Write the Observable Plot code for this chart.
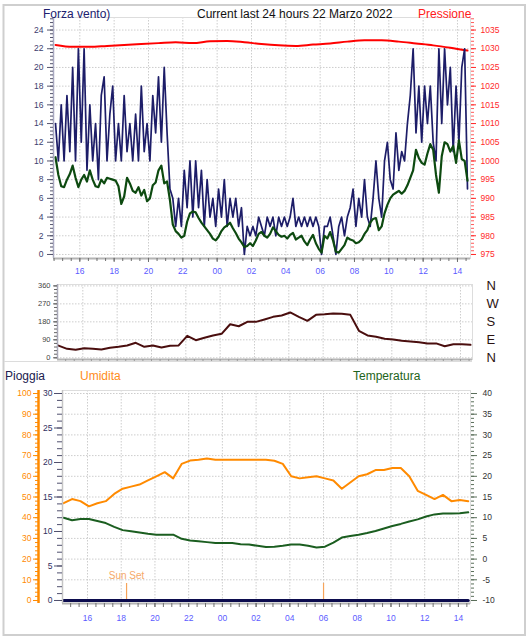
<!DOCTYPE html>
<html>
<head>
<meta charset="utf-8">
<script src="https://cdn.jsdelivr.net/npm/d3@7"></script>
<script src="https://cdn.jsdelivr.net/npm/@observablehq/plot@0.6"></script>
<style>
  html, body { margin: 0; padding: 0; background: #ffffff; }
  #chart { position: relative; width: 532px; height: 640px; overflow: hidden; background: #fff; font-family: "Liberation Sans", Arial, sans-serif; }
  #chart > div.panel { position: absolute; left: 0; }
  #chart svg { display: block; }
  #overlay { position: absolute; left: 0; top: 0; pointer-events: none; }
</style>
</head>
<body>
<div id="chart">
  <div class="panel" id="p1" style="top:0px"></div>
  <div class="panel" id="p2" style="top:275px"></div>
  <div class="panel" id="p3" style="top:380px"></div>
  <svg id="overlay" width="532" height="640" font-family="Liberation Sans, Arial, sans-serif">
    <rect x="3.5" y="5" width="521.5" height="630" fill="none" stroke="#cfcfcf" stroke-width="2"/>
    <line x1="4" x2="472" y1="361.5" y2="361.5" stroke="#dcdcdc" stroke-width="1"/>
    <text x="43" y="17.5" fill="#20206e" font-size="12">Forza vento)</text>
    <text x="197" y="17.5" fill="#111111" font-size="12">Current last 24 hours 22 Marzo 2022</text>
    <text x="418" y="17.5" fill="#ff2020" font-size="12">Pressione</text>
    <text x="5" y="380" fill="#20204e" font-size="12">Pioggia</text>
    <text x="80" y="380" fill="#ff8c1a" font-size="12">Umidita</text>
    <text x="353" y="380" fill="#1e6420" font-size="12">Temperatura</text>
  </svg>
</div>
<script>
// ---------------- DATA ----------------
const start = new Date(2022, 2, 21, 14, 35);   // first sample (21 Mar 2022 14:35)
const windStepMin = 10;
// Wind gust (navy), one value every 10 minutes
const windGust = [
  14,10,16,10,17,11,20,10,22,12,
  22,9,16,10,14,8,17,19,10,15,
  18,10,14,10,17,11,14,10,15,10,
  18,11,14,10,17,13,19,12,20,13,
  7,6,3,6,3,9,5,10,4,10,
  5,9,3,8,4,6,3,7,4,8,
  3,6,4,6,3,5,0,3,2,3,
  2,4,3,2,4,3,4,2,4,3,
  4,3,4,6,3,4,3,4,3,4,
  3,4,3,0,3,3,4,2,0,3,
  4,2,4,5,7,3,6,4,8,4,
  3,6,10,6,4,10,12,8,7,13,
  9,11,10,14,17,22,13,18,12,18,
  14,18,12,10,22,14,22,16,20,11,
  18,12,20,22,7
];
// Wind average (dark green), one value every 10 minutes
const windAvg = [
  10.4,8.5,7.3,7.2,8.0,8.6,9.5,8.2,7.2,8.0,
  8.5,7.8,9.0,8.0,7.3,7.2,8.0,7.6,8.2,8.1,
  8.0,7.9,7.3,5.4,6.2,8.2,7.6,6.8,6.6,7.2,
  6.3,6.9,5.7,6.0,7.4,7.7,9.0,9.5,7.6,7.8,
  5.8,3.2,2.5,2.2,1.8,2.0,3.5,4.4,4.6,4.5,
  3.9,3.4,3.0,2.6,2.2,1.7,1.5,1.9,2.5,2.9,
  3.1,3.4,2.8,2.3,1.7,1.3,0.8,0.9,1.2,0.9,
  1.5,2.2,2.4,2.0,1.8,2.2,2.9,2.5,2.1,1.9,
  2.0,1.7,2.1,2.3,1.6,1.8,2.0,1.4,1.0,1.6,
  2.1,1.2,0.6,0.2,2.0,1.7,2.4,1.5,0.3,0.2,
  0.6,1.0,1.8,1.6,1.5,1.2,1.3,1.6,2.2,2.6,
  3.4,3.8,3.9,2.6,3.0,4.4,5.3,6.0,6.4,6.6,
  6.8,6.5,6.8,7.4,8.2,9.0,11.2,10.3,9.8,9.6,
  10.8,11.8,11.2,8.5,6.6,10.5,12.0,11.8,11.0,11.6,
  9.8,12.2,10.2,10.0,7.9
];
// Pressure (hPa), hourly
const pressureStepMin = 60;
const pressure = [
  1031.0,1030.5,1030.5,1030.75,1031.0,1031.25,1031.5,1031.75,1031.5,1032.0,
  1032.1,1031.75,1031.25,1030.9,1030.75,1031.1,1031.4,1031.9,1032.25,1032.25,
  1031.9,1031.4,1030.9,1030.25,1029.5
];
// Wind direction (degrees), every 30 minutes
const dirStepMin = 30;
const windDir = [
  61,45,40,48,45,42,50,55,62,75,
  55,62,52,60,62,110,88,100,112,120,
  168,158,180,180,192,205,212,227,205,185,
  215,218,222,220,215,135,112,105,95,92,
  85,82,78,72,72,58,68,68,65
];
// Humidity (%) and temperature (°C), every 30 minutes
const thStepMin = 30;
const humidity = [
  47,49,48,45.5,47,48,51.5,54,55,56,
  58,60,62,59,66,67.6,68,68.6,68,68,
  68,68,68,68,68,67.5,66,60,59,59.5,
  60,59,58,54,57,60,61,63,63,64,
  64,60,53,51,49,51,48,48.5,48
];
const temperature = [
  10.0,9.4,9.7,9.7,9.2,8.7,7.8,7.0,6.7,6.4,
  6.1,5.9,5.9,5.9,4.9,4.5,4.3,4.1,3.9,3.9,
  3.9,3.6,3.5,3.2,2.9,3.0,3.2,3.5,3.5,3.2,
  2.8,3.0,4.0,5.2,5.6,5.9,6.3,6.8,7.4,8.0,
  8.5,9.1,9.6,10.3,10.8,11.0,11.0,11.1,11.3
];
// Rain (mm), hourly
const rainStepMin = 60;
const rain = [0,0,0,0,0,0,0,0,0,0,0,0,0,0,0,0,0,0,0,0,0,0,0,0,0];
// Sunset / sunrise markers
const sunEvents = [
  {time: new Date(2022, 2, 21, 18, 19), label: "Sun Set"},
  {time: new Date(2022, 2, 22, 6, 0), label: ""}
];
// Tick values
const speedTicks = [0,2,4,6,8,10,12,14,16,18,20,22,24];
const pressureTicks = [975,980,985,990,995,1000,1005,1010,1015,1020,1025,1030,1035];
const dirTicks = [0,90,180,270,360];
const dirLabels = ["N","E","S","W","N"];
const humTicks = [0,10,20,30,40,50,60,70,80,90,100];
const rainTicks = [0,5,10,15,20,25,30];
const tempTicks = [-10,-5,0,5,10,15,20,25,30,35,40];

// ---------------- HELPERS ----------------
const FONT = "'Liberation Sans', Arial, sans-serif";
const MIN = 60000;
const at = m => new Date(+start + m * MIN);
const rows = (vals, step) => vals.map((v, i) => ({t: at(i * step), v}));
const spanMin = 24 * 60;
const grid = {stroke: "#cdcdcd", strokeOpacity: 1, strokeDasharray: "1.5,1.5"};
const tickBlue = "#5b5bff";
const noText = () => "";
const minorOf = (lo, hi, step) => d3.range(Math.round((hi - lo) / step) + 1).map(i => lo + i * step);

// pressure -> wind-speed axis units
const pFactor = (pressureTicks.at(-1) - pressureTicks[0]) / (speedTicks.at(-1) - speedTicks[0]);
const pToY = p => (p - pressureTicks[0]) / pFactor;
// rain / temperature -> humidity axis units
const rainToH = r => r * humTicks.at(-1) / rainTicks.at(-1);
const tempToH = T => (T - tempTicks[0]) * humTicks.at(-1) / (tempTicks.at(-1) - tempTicks[0]);

// ---------------- PANEL 1: wind speed + pressure ----------------
const p1X = [at(-7), at(spanMin + 10.5)];
const p1Y = [-0.43, 25.34];
const h2a = d3.timeHour.every(2).range(p1X[0], p1X[1]);
const m30a = d3.timeMinute.every(30).range(p1X[0], p1X[1]);
const speedMinor = minorOf(0, 25.2, 0.4);

const plot1 = Plot.plot({
  width: 532, height: 280,
  marginLeft: 53, marginRight: 62, marginTop: 17, marginBottom: 22,
  style: {fontFamily: FONT, background: "transparent", overflow: "visible"},
  x: {type: "time", domain: p1X, label: null},
  y: {domain: p1Y, label: null},
  marks: [
    Plot.gridX({ticks: h2a, ...grid}),
    Plot.gridY({ticks: speedTicks, ...grid}),
    Plot.frame({stroke: "#dddddd"}),
    Plot.line(rows(pressure, pressureStepMin), {x: "t", y: d => pToY(d.v), stroke: "#ff0000", strokeWidth: 2, curve: "monotone-x"}),
    Plot.line(rows(windGust, windStepMin), {x: "t", y: "v", stroke: "#1d1d68", strokeWidth: 1.7}),
    Plot.line(rows(windAvg, windStepMin), {x: "t", y: "v", stroke: "#0d4a10", strokeWidth: 2.2}),
    Plot.ruleX([p1X[0]], {stroke: "#a8a8c0", strokeWidth: 1.5}),
    Plot.ruleY([p1Y[0]], {stroke: "#b4b4b4", strokeWidth: 2}),
    Plot.axisY({ticks: speedMinor, tickSize: 3, tickFormat: noText, stroke: "#55556e", label: null}),
    Plot.axisY({ticks: speedTicks, tickSize: 6, tickPadding: 4, fontSize: 8.5, fill: "#3d3d6e", stroke: "#55556e", label: null}),
    Plot.axisY({anchor: "right", ticks: speedMinor, tickSize: 3, tickFormat: noText, stroke: "#ff5a5a", label: null}),
    Plot.axisY({anchor: "right", ticks: pressureTicks.map(pToY), tickSize: 5, tickPadding: 5,
      tickFormat: d => String(Math.round(pressureTicks[0] + d * pFactor)), fill: "#ff2a2a", stroke: "#ff2a2a", fontSize: 8.5, label: null}),
    Plot.axisX({ticks: m30a, tickSize: 3, tickFormat: noText, stroke: "#707070", label: null}),
    Plot.axisX({ticks: h2a, tickSize: 4, tickPadding: 5, tickFormat: d3.timeFormat("%H"), fill: tickBlue, stroke: "#707070", fontSize: 8.5, label: null})
  ]
});
document.getElementById("p1").append(plot1);

// ---------------- PANEL 2: wind direction ----------------
const p2X = [at(-3.5), at(spanMin + 7)];
const p2Y = [-8.5, 367];
const h2b = d3.timeHour.every(2).range(p2X[0], p2X[1]);
const m30b = d3.timeMinute.every(30).range(p2X[0], p2X[1]);
const dirMinor = minorOf(0, 360, 18);

const plot2 = Plot.plot({
  width: 532, height: 90,
  marginLeft: 57, marginRight: 60, marginTop: 9, marginBottom: 6,
  style: {fontFamily: FONT, background: "transparent", overflow: "visible"},
  x: {type: "time", domain: p2X, label: null},
  y: {domain: p2Y, label: null},
  marks: [
    Plot.gridX({ticks: h2b, ...grid}),
    Plot.gridY({ticks: dirTicks, ...grid}),
    Plot.frame({stroke: "#dddddd"}),
    Plot.line(rows(windDir, dirStepMin), {x: "t", y: "v", stroke: "#4a0e0e", strokeWidth: 2}),
    Plot.ruleX([p2X[0]], {stroke: "#a8a8b8", strokeWidth: 1.5}),
    Plot.ruleY([p2Y[0]], {stroke: "#b4b4b4", strokeWidth: 2}),
    Plot.axisY({ticks: dirMinor, tickSize: 3, tickFormat: noText, stroke: "#666", label: null}),
    Plot.axisY({ticks: dirTicks, tickSize: 4, tickPadding: 3, fontSize: 7.5, fill: "#444", stroke: "#666", label: null}),
    Plot.axisY({anchor: "right", ticks: dirTicks, tickSize: 0, tickPadding: 14,
      tickFormat: d => dirLabels[dirTicks.indexOf(d)], fontSize: 13, fill: "#2b1212", label: null}),
    Plot.axisX({ticks: m30b, tickSize: 2, tickFormat: noText, stroke: "#999", label: null})
  ]
});
document.getElementById("p2").append(plot2);

// ---------------- PANEL 3: rain, humidity, temperature ----------------
const p3X = [at(-4), at(spanMin + 8)];
const p3Y = [-1.45, 101.45];
const h2c = d3.timeHour.every(2).range(p3X[0], p3X[1]);
const m30c = d3.timeMinute.every(30).range(p3X[0], p3X[1]);
const humMinor = minorOf(0, 100, 2);
const rainMinor = minorOf(0, 30, 1);
const tempMinor = minorOf(-10, 40, 1);
const orange = "#ff8a00";

const plot3 = Plot.plot({
  width: 532, height: 250,
  marginLeft: 62, marginRight: 62, marginTop: 10, marginBottom: 27,
  style: {fontFamily: FONT, background: "transparent", overflow: "visible"},
  x: {type: "time", domain: p3X, label: null},
  y: {domain: p3Y, label: null},
  marks: [
    Plot.gridX({ticks: h2c, ...grid}),
    Plot.gridY({ticks: humTicks, ...grid}),
    Plot.frame({stroke: "#dddddd"}),
    Plot.line(rows(humidity, thStepMin), {x: "t", y: "v", stroke: orange, strokeWidth: 2}),
    Plot.line(rows(temperature, thStepMin), {x: "t", y: d => tempToH(d.v), stroke: "#1b5e20", strokeWidth: 2}),
    Plot.ruleX(sunEvents, {x: "time", insetTop: 193, insetBottom: 3, stroke: "#f6a45a", strokeWidth: 1.2}),
    Plot.text(sunEvents, {x: "time", text: "label", frameAnchor: "bottom", dy: -25, fill: "#f6a868", fontSize: 10}),
    Plot.line(rows(rain, rainStepMin), {x: "t", y: d => rainToH(d.v), stroke: "#0c0c4e", strokeWidth: 3}),
    Plot.ruleX([p3X[0]], {stroke: "#c4c4c4", strokeWidth: 1.5}),
    Plot.ruleY([p3Y[0]], {stroke: "#b4b4b4", strokeWidth: 2}),
    // humidity axis (orange, offset left)
    Plot.ruleX([p3X[0]], {y1: p3Y[0], y2: p3Y[1], dx: -24, stroke: orange, strokeWidth: 2.5}),
    Plot.axisY({ticks: humMinor, dx: -24, tickSize: 3, tickFormat: noText, stroke: orange, label: null}),
    Plot.axisY({ticks: humTicks, dx: -24, tickSize: 5, tickPadding: 2, fontSize: 8.5, fill: orange, stroke: orange, label: null}),
    // rain axis (navy)
    Plot.axisY({ticks: rainMinor.map(rainToH), tickSize: 5, tickFormat: noText, stroke: "#50506e", label: null}),
    Plot.axisY({ticks: rainTicks.map(rainToH), tickSize: 8, tickPadding: 2,
      tickFormat: d => String(Math.round(d * rainTicks.at(-1) / humTicks.at(-1))), fontSize: 8.5, fill: "#30305e", stroke: "#50506e", label: null}),
    // temperature axis (right)
    Plot.axisY({anchor: "right", ticks: tempMinor.map(tempToH), tickSize: 3, tickFormat: noText, stroke: "#5a6e5a", label: null}),
    Plot.axisY({anchor: "right", ticks: tempTicks.map(tempToH), tickSize: 6, tickPadding: 6,
      tickFormat: d => String(Math.round(d * (tempTicks.at(-1) - tempTicks[0]) / humTicks.at(-1) + tempTicks[0])),
      fontSize: 8.5, fill: "#333333", stroke: "#5a6e5a", label: null}),
    // time axis
    Plot.axisX({ticks: m30c, tickSize: 4, tickFormat: noText, stroke: "#707070", label: null}),
    Plot.axisX({ticks: h2c, tickSize: 4, tickPadding: 7, tickFormat: d3.timeFormat("%H"), fill: tickBlue, stroke: "#707070", fontSize: 8.5, label: null})
  ]
});
document.getElementById("p3").append(plot3);
</script>
</body>
</html>
